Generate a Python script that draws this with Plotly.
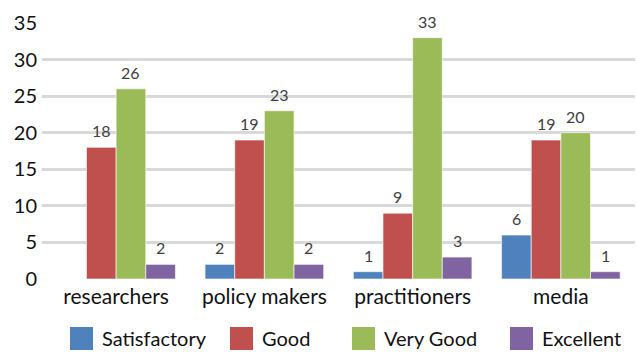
import plotly.graph_objects as go

# Survey ratings by audience
categories = ["researchers", "policy makers", "practitioners", "media"]
series_names = ["Satisfactory", "Good", "Very Good", "Excellent"]
satisfactory = [None, 2, 1, 6]
good = [18, 19, 9, 19]
very_good = [26, 23, 33, 20]
excellent = [2, 2, 3, 1]
y_ticks = [0, 5, 10, 15, 20, 25, 30, 35]

colors = ["#4F81BD", "#C0504D", "#9BBB59", "#8064A2"]
series_values = [satisfactory, good, very_good, excellent]

W, H = 637, 354
ML, MR, MT, MB = 42, 2, 23, 75
FONT = "Lato"


def px_to_paper_x(px):
    return (px - ML) / (W - ML - MR)


def px_to_paper_y(py):
    return (H - MB - py) / (H - MT - MB)


fig = go.Figure()
for name, vals, col in zip(series_names, series_values, colors):
    fig.add_trace(go.Bar(
        x=categories, y=vals, name=name,
        marker=dict(color=col, line=dict(color="rgba(255,255,255,0.6)", width=1)),
        showlegend=False,
    ))

# value labels above each bar
n = len(series_names)
bar_w = 0.8 / n
annotations = []
for si, vals in enumerate(series_values):
    for ci, v in enumerate(vals):
        if v is None:
            continue
        annotations.append(dict(
            x=ci + (si - (n - 1) / 2) * bar_w, y=v, xref="x", yref="y",
            text=str(v), showarrow=False, yanchor="bottom", yshift=5,
            font=dict(family=FONT, size=16, color="#404040"),
        ))

# legend drawn as coloured squares with labels
legend_sq_x = [70, 230, 352, 510]
shapes = []
for name, col, sx in zip(series_names, colors, legend_sq_x):
    shapes.append(dict(
        type="rect", xref="paper", yref="paper",
        x0=px_to_paper_x(sx), x1=px_to_paper_x(sx + 23),
        y0=px_to_paper_y(350), y1=px_to_paper_y(327),
        fillcolor=col, line=dict(width=0),
    ))
    annotations.append(dict(
        x=px_to_paper_x(sx + 30), y=px_to_paper_y(338), xref="paper", yref="paper",
        text=name, showarrow=False, xanchor="left", yanchor="middle",
        font=dict(family=FONT, size=20, color="#111111"),
    ))

fig.update_layout(
    width=W, height=H,
    margin=dict(l=ML, r=MR, t=MT, b=MB),
    barmode="group", bargap=0.2, bargroupgap=0,
    plot_bgcolor="white", paper_bgcolor="white",
    font=dict(family=FONT, color="#111111"),
    annotations=annotations, shapes=shapes,
    showlegend=False,
)
fig.update_yaxes(
    range=[0, 35], tickvals=y_ticks, showgrid=True, gridcolor="#D9D9D9", gridwidth=3,
    zeroline=False, showline=False, tickfont=dict(family=FONT, size=20, color="#111111"),
    ticklabelstandoff=4,
)
fig.update_xaxes(
    showgrid=False, showline=False, zeroline=False,
    tickfont=dict(family=FONT, size=21, color="#111111"), ticklabelstandoff=3,
)

fig.write_html("out.html")
